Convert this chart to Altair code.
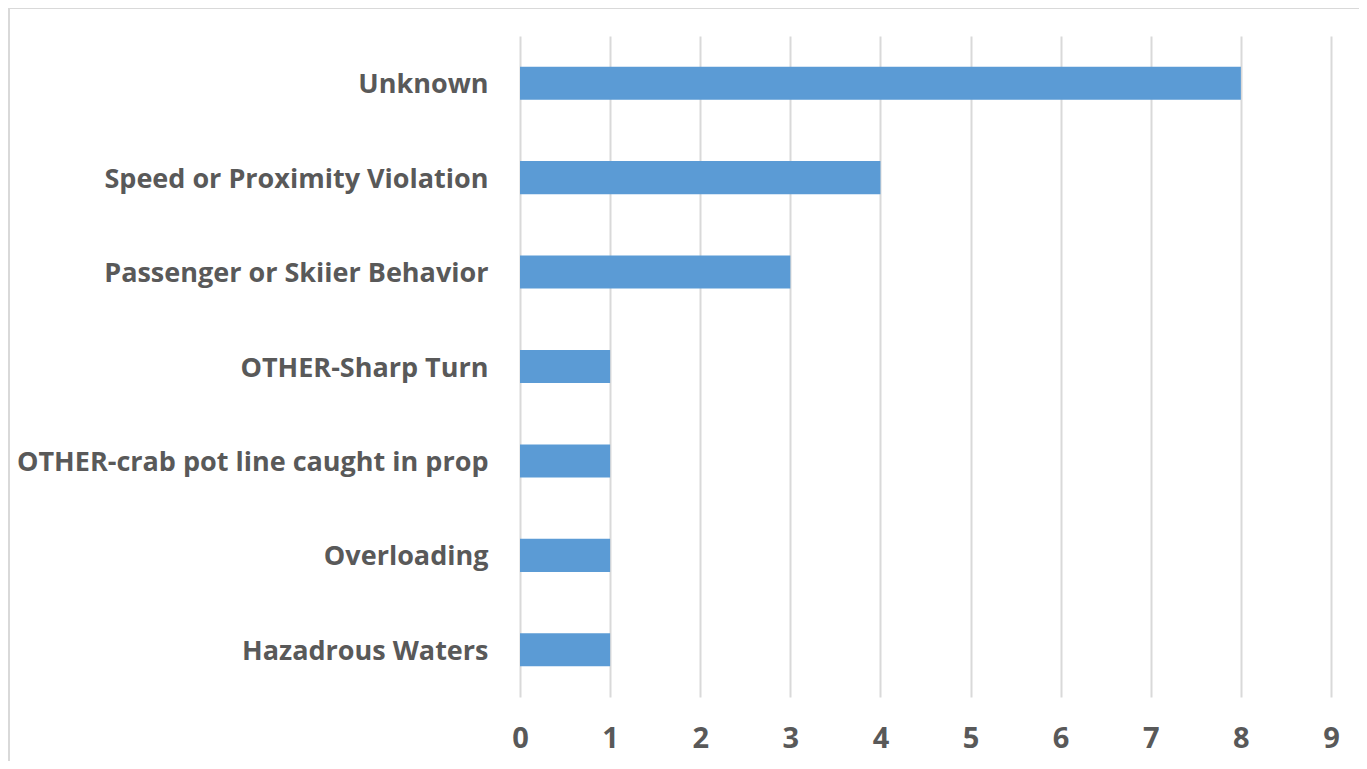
import altair as alt
import pandas as pd

categories = ["Unknown", "Speed or Proximity Violation", "Passenger or Skiier Behavior",
              "OTHER-Sharp Turn", "OTHER-crab pot line caught in prop", "Overloading",
              "Hazadrous Waters"]
values = [8, 4, 3, 1, 1, 1, 1]
x_ticks = list(range(0, 10))

df = pd.DataFrame({"cause": categories, "count": values})

FONT = "Open Sans"
TXT = "#595959"

bars = alt.Chart(df).mark_bar(color="#5B9BD5").encode(
    x=alt.X("count:Q", scale=alt.Scale(domain=[0, 9], nice=False),
            axis=alt.Axis(values=x_ticks, title=None, domain=False, ticks=False,
                          grid=True, gridColor="#D9D9D9", gridWidth=2,
                          labelFont=FONT, labelFontSize=29, labelFontWeight="bold",
                          labelColor=TXT, labelPadding=27, labelFlush=False)),
    y=alt.Y("cause:N", sort=categories,
            scale=alt.Scale(paddingInner=0.65, paddingOuter=0.325),
            axis=alt.Axis(title=None, domain=False, ticks=False, grid=False,
                          labelFont=FONT, labelFontSize=27, labelFontWeight="bold",
                          labelColor=TXT, labelPadding=32, labelLimit=600,
                          labelOffset=2)),
)

border = alt.Chart(df).mark_rule(color="#D9D9D9", strokeWidth=2).encode(
    x=alt.value(-511), x2=alt.value(900), y=alt.value(-28), y2=alt.value(-28)
)
border2 = alt.Chart(df).mark_rule(color="#D9D9D9", strokeWidth=2).encode(
    x=alt.value(-511), x2=alt.value(-511), y=alt.value(-28), y2=alt.value(800)
)

chart = alt.layer(bars, border, border2).properties(
    width=811, height=661,
    padding={"left": 512, "top": 28, "right": 28, "bottom": 64},
    autosize=alt.AutoSizeParams(type="none"),
).configure_view(stroke=None)

chart.save("out.html", embed_options={"renderer": "svg", "actions": False})
